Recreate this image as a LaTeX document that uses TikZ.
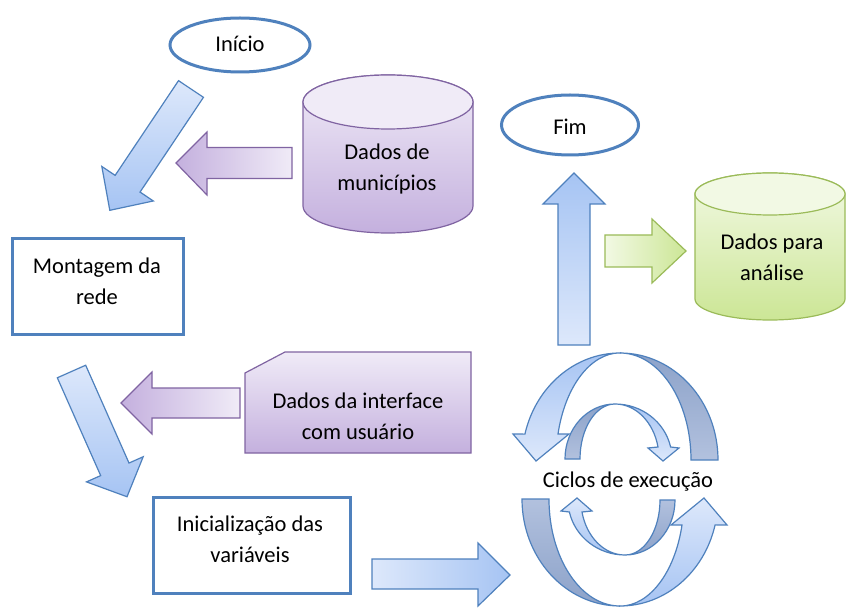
\documentclass[tikz,border=0pt]{standalone}
\usepackage{fontspec}
\setmainfont{Carlito}
\usetikzlibrary{shapes.geometric}
\definecolor{bluebd}{RGB}{79,129,189}
\definecolor{purbd}{RGB}{128,100,162}
\definecolor{grnbd}{RGB}{155,187,89}
\definecolor{bllight}{RGB}{221,232,251}
\definecolor{bldark}{RGB}{166,196,243}
\definecolor{plight}{RGB}{240,235,247}
\definecolor{pdark}{RGB}{196,176,222}
\definecolor{glight}{RGB}{242,249,228}
\definecolor{gdark}{RGB}{204,230,150}
\definecolor{backdark}{RGB}{140,162,201}
\definecolor{backlight}{RGB}{178,193,222}
\begin{document}
\begin{tikzpicture}[x=1pt,y=-1pt,
  txt/.style={font=\fontsize{22.5}{31}\selectfont, align=center, text=black, inner sep=0pt},
  oval/.style={ellipse, draw=bluebd, line width=3pt, fill=white, inner sep=0pt},
  box/.style={rectangle, draw=bluebd, line width=3pt, fill=white, inner sep=0pt},
  barrow/.style={draw=bluebd, line width=1.2pt, line join=miter},
  parrow/.style={draw=purbd, line width=1.2pt, line join=miter, left color=pdark, right color=plight},
  garrow/.style={draw=grnbd, line width=1.2pt, line join=miter, left color=glight, right color=gdark},
  cycback/.style={draw=bluebd, line width=1.2pt, line join=miter},
  cycfront/.style={draw=bluebd, line width=1.2pt, line join=miter},
]
\useasboundingbox (0,0) rectangle (846,612);
\fill[white] (0,0) rectangle (846,612);

% ---- block arrows ----
\begin{scope}[shift={(191,89)}, rotate=-123.8]
\draw[barrow, top color=bllight, bottom color=bldark] (0,-15) -- (114,-15) -- (114,-31) -- (146,0) -- (114,31) -- (114,15) -- (0,15) -- cycle;
\end{scope}
\begin{scope}[shift={(71.5,371.5)}, rotate=-66.1]
\draw[barrow, top color=bllight, bottom color=bldark] (0,-15.5) -- (107,-15.5) -- (107,-31) -- (137,0) -- (107,31) -- (107,15.5) -- (0,15.5) -- cycle;
\end{scope}
\draw[parrow] (292,147.5) -- (207,147.5) -- (207,132) -- (176,163) -- (207,195) -- (207,178.5) -- (292,178.5) -- cycle;
\draw[parrow] (240,388) -- (152,388) -- (152,372) -- (121,403) -- (152,434) -- (152,418) -- (240,418) -- cycle;
\draw[barrow, left color=bllight, right color=bldark] (372,559) -- (478,559) -- (478,543) -- (510,575) -- (478,606) -- (478,589) -- (372,589) -- cycle;
\draw[barrow, top color=bldark, bottom color=bllight] (558,345) -- (558,204) -- (543,204) -- (574,173) -- (605,204) -- (590,204) -- (590,345) -- cycle;
\draw[garrow] (605,235) -- (652,235) -- (652,219) -- (686,251) -- (652,283) -- (652,267) -- (605,267) -- cycle;

% ---- cycle arrows (top pair) ----
\draw[cycback, top color=backdark, bottom color=backlight] (620,353) arc[start angle=-90,end angle=0,x radius=98,y radius=107] -- (691,460) arc[start angle=0,end angle=-90,x radius=71,y radius=107] -- cycle;
\draw[cycfront, top color=bldark, bottom color=bllight] (620,353) arc[start angle=-90,end angle=-166,x radius=98,y radius=107] -- (513,434) -- (536,461) -- (569,434) -- (558,434) arc[start angle=-166,end angle=-90,x radius=64,y radius=107] -- cycle;
\draw[cycback, top color=backdark, bottom color=backlight] (565,459) arc[start angle=180,end angle=270,x radius=50,y radius=55] arc[start angle=270,end angle=180,x radius=35,y radius=55] -- cycle;
\draw[cycfront, top color=bldark, bottom color=bllight] (615,404) arc[start angle=-90,end angle=-12.6,x radius=57,y radius=55] -- (679,448) -- (663,461) -- (648,448) -- (658,447) arc[start angle=-12.6,end angle=-90,x radius=44,y radius=55] -- cycle;
% ---- cycle arrows (bottom pair) ----
\begin{scope}[rotate around={180:(620,479.5)}]
\draw[cycback, top color=backlight, bottom color=backdark] (620,353) arc[start angle=-90,end angle=0,x radius=98,y radius=107] -- (691,460) arc[start angle=0,end angle=-90,x radius=71,y radius=107] -- cycle;
\draw[cycfront, top color=bllight, bottom color=bldark] (620,353) arc[start angle=-90,end angle=-166,x radius=98,y radius=107] -- (513,434) -- (536,461) -- (569,434) -- (558,434) arc[start angle=-166,end angle=-90,x radius=64,y radius=107] -- cycle;
\draw[cycback, top color=backlight, bottom color=backdark] (565,459) arc[start angle=180,end angle=270,x radius=50,y radius=55] arc[start angle=270,end angle=180,x radius=35,y radius=55] -- cycle;
\draw[cycfront, top color=bllight, bottom color=bldark] (615,404) arc[start angle=-90,end angle=-12.6,x radius=57,y radius=55] -- (679,448) -- (663,461) -- (648,448) -- (658,447) arc[start angle=-12.6,end angle=-90,x radius=44,y radius=55] -- cycle;
\end{scope}

% ---- cylinders ----
\draw[draw=purbd, line width=1.2pt, top color=plight, bottom color=pdark] (303,102) -- (303,206) arc[start angle=180,end angle=0,x radius=85,y radius=27] -- (473,102) arc[start angle=0,end angle=-180,x radius=85,y radius=27] -- cycle;
\draw[draw=purbd, line width=1.2pt, fill=plight] (388,102) ellipse [x radius=85, y radius=27];
\draw[draw=grnbd, line width=1.2pt, top color=glight, bottom color=gdark] (695,194) -- (695,299) arc[start angle=180,end angle=0,x radius=75,y radius=21] -- (845,194) arc[start angle=0,end angle=-180,x radius=75,y radius=21] -- cycle;
\draw[draw=grnbd, line width=1.2pt, fill=glight] (770,194) ellipse [x radius=75, y radius=21];

% ---- card ----
\draw[draw=purbd, line width=1.2pt, top color=plight, bottom color=pdark] (245,373) -- (285,352) -- (471,352) -- (471,453) -- (245,453) -- cycle;

% ---- nodes ----
\node[oval, minimum width=140pt, minimum height=54pt] (ini) at (240,45) {};
\node[txt] (iniT) at (240,44) {Início};
\node[oval, minimum width=137pt, minimum height=60pt] (fim) at (570,125) {};
\node[txt] (fimT) at (570,127) {Fim};
\node[box, minimum width=171pt, minimum height=95pt] (mont) at (97.5,286.5) {};
\node[txt] (montT) at (97,281) {Montagem da\\rede};
\node[box, minimum width=197pt, minimum height=96pt] (inic) at (251.5,545) {};
\node[txt] (inicT) at (250,539) {Inicialização das\\variáveis};
\node[txt] (mun) at (387,169) {Dados de\\municípios};
\node[txt] (ana) at (772,257) {Dados para\\análise};
\node[txt] (ui) at (358,416) {Dados da interface\\com usuário};
\node[txt] (cic) at (628,482) {Ciclos de execução};
\end{tikzpicture}
\end{document}
